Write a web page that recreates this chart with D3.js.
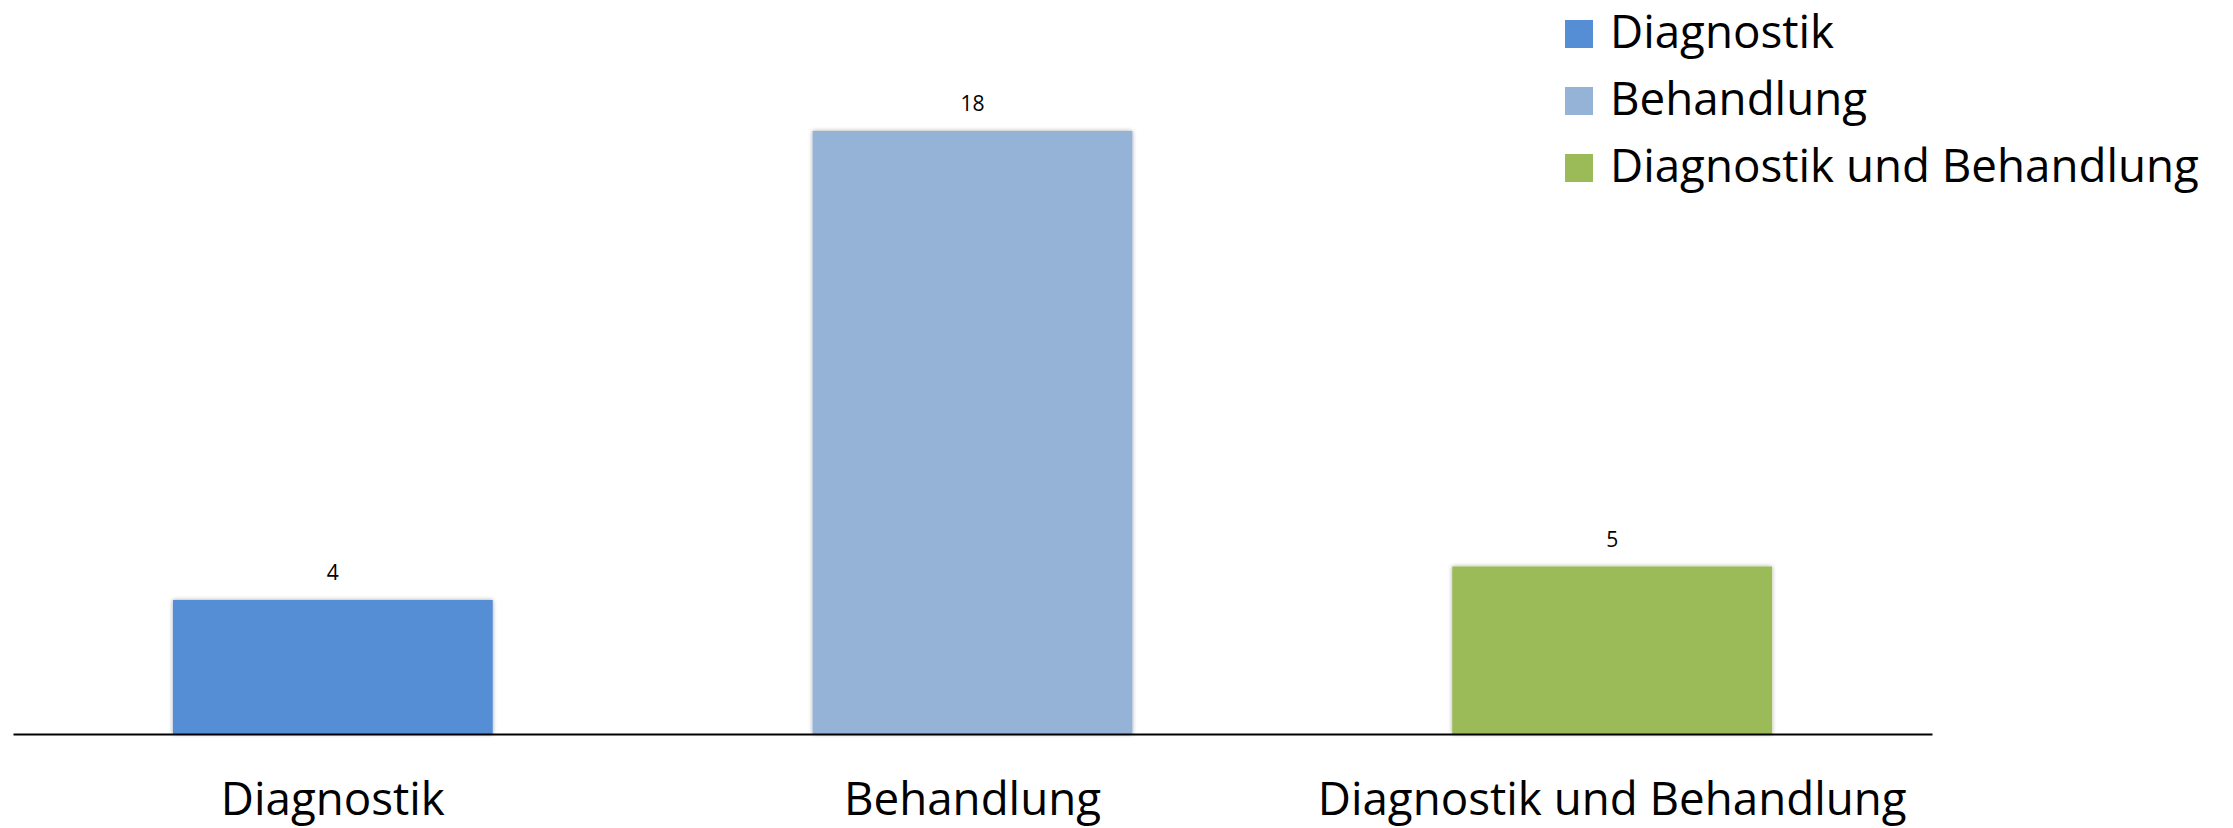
<!DOCTYPE html>
<html>
<head>
<meta charset="utf-8">
<script src="https://cdn.jsdelivr.net/npm/d3@7"></script>
<style>
  html, body { margin: 0; padding: 0; background: #ffffff; }
  svg { display: block; }
</style>
</head>
<body>
<svg id="chart" width="2233" height="828"></svg>
<script>
// Chart data
const categories = ["Diagnostik", "Behandlung", "Diagnostik und Behandlung"];
const values = [4, 18, 5];
const colors = ["#558ed5", "#95b3d7", "#9bbb59"];

const W = 2233, H = 828;
const svg = d3.select("#chart");
const FONT = "'Open Sans', 'Noto Sans', sans-serif";

// Scale the font so the longest label at nominal size 52 is 589px wide
const probe = svg.append("text")
  .attr("font-family", FONT).attr("font-size", 100)
  .text("Diagnostik und Behandlung");
const probeW = probe.node().getComputedTextLength();
probe.remove();
const fontScale = (589 / 52 * 100) / probeW;
const fs = px => px * fontScale;

// Layout
const baseY = 734;
const topY = 131;
const x = d3.scaleBand()
  .domain(categories)
  .range([13, 1932])
  .paddingInner(0.5)
  .paddingOuter(0.25);
const y = d3.scaleLinear()
  .domain([0, d3.max(values)])
  .range([baseY, topY]);

const data = categories.map((c, i) => ({ cat: c, value: values[i], color: colors[i] }));

// Soft shadow around bars
const defs = svg.append("defs");
const f = defs.append("filter").attr("id", "barShadow")
  .attr("x", "-5%").attr("y", "-5%").attr("width", "110%").attr("height", "110%");
f.append("feDropShadow")
  .attr("dx", 0).attr("dy", 0).attr("stdDeviation", 2)
  .attr("flood-color", "#000").attr("flood-opacity", 0.35);

// Bars
svg.append("g").selectAll("rect")
  .data(data).join("rect")
  .attr("x", d => x(d.cat))
  .attr("y", d => y(d.value))
  .attr("width", x.bandwidth())
  .attr("height", d => y(0) - y(d.value))
  .attr("fill", d => d.color)
  .attr("filter", "url(#barShadow)");

// Value labels
svg.append("g").selectAll("text")
  .data(data).join("text")
  .attr("x", d => x(d.cat) + x.bandwidth() / 2)
  .attr("y", d => y(d.value) - 20)
  .attr("text-anchor", "middle")
  .attr("font-family", FONT)
  .attr("font-size", fs(24))
  .attr("fill", "#000")
  .text(d => d.value);

// Category axis
const axis = svg.append("g")
  .attr("transform", `translate(0,${baseY})`)
  .call(d3.axisBottom(x).tickSize(0).tickSizeOuter(0));
axis.select(".domain").attr("stroke", "#000").attr("stroke-width", 2);
axis.selectAll(".tick text")
  .attr("y", 81).attr("dy", 0)
  .attr("font-family", FONT)
  .attr("font-size", fs(52))
  .attr("fill", "#000");

// Legend
const legend = svg.append("g").selectAll("g")
  .data(data).join("g")
  .attr("transform", (d, i) => `translate(1565,${48 + i * 67})`);
legend.append("rect")
  .attr("x", 0).attr("y", -28)
  .attr("width", 28).attr("height", 28)
  .attr("fill", d => d.color);
legend.append("text")
  .attr("x", 45).attr("y", 0)
  .attr("font-family", FONT)
  .attr("font-size", fs(52))
  .attr("fill", "#000")
  .text(d => d.cat);
</script>
</body>
</html>
